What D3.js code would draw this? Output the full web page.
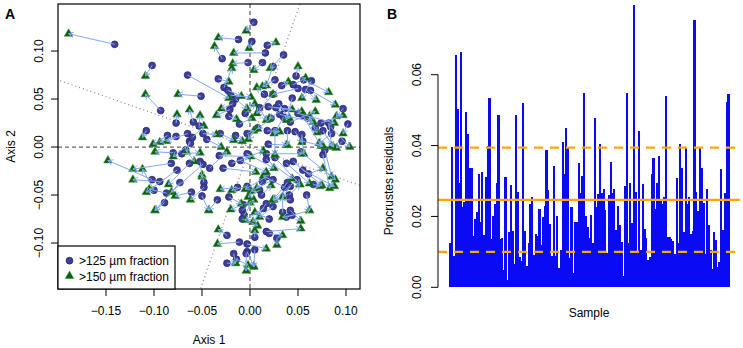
<!DOCTYPE html>
<html>
<head>
<meta charset="utf-8">
<script src="https://cdn.jsdelivr.net/npm/d3@7"></script>
<style>
  body { margin: 0; background: #fff; }
  svg text { font-family: "Liberation Sans", Arial, sans-serif; fill: #000; }
</style>
</head>
<body>
<div id="chart"></div>
<script>
// ---- data ----
// ordination scores of each sample, >125 µm fraction (arrow start)
const frac125 = [
  [-0.141,0.107],[-0.102,0.085],[-0.093,0.038],[-0.065,0.075],[-0.051,0.053],[-0.033,0.071],[-0.108,0.017],
  [0.004,0.130],[-0.012,0.112],[-0.029,0.092],[0.002,0.110],[0.018,0.106],[0.035,0.096],[0.016,0.098],
  [-0.002,0.088],[0.013,0.088],[0.024,0.084],[-0.027,0.062],[-0.023,0.059],[-0.020,0.054],[0.015,0.055],
  [0.033,0.064],[0.048,0.074],[0.056,0.070],[0.064,0.069],[0.050,0.061],[0.058,0.060],[0.063,0.059],
  [0.044,0.051],[0.024,0.055],[-0.077,0.025],[-0.059,0.026],[-0.053,0.022],[-0.021,0.039],[-0.022,0.032],
  [-0.011,0.024],[0.010,0.041],[0.019,0.042],[0.027,0.041],[0.031,0.034],[0.035,0.031],[0.042,0.026],
  [0.050,0.035],[0.055,0.033],[0.074,0.025],[0.082,0.025],[0.084,0.021],[0.097,0.040],[0.102,0.024],
  [-0.086,0.012],[-0.077,0.011],[-0.065,0.014],[-0.063,0.006],[-0.049,0.014],[-0.062,0.004],[-0.031,0.014],
  [-0.015,0.012],[-0.003,0.014],[0.018,0.017],[0.026,0.017],[0.039,0.017],[0.047,0.016],[0.054,0.013],
  [0.055,0.006],[0.076,0.017],[0.085,0.014],[0.096,0.006],[-0.080,-0.006],[-0.071,-0.007],[-0.082,-0.017],
  [-0.076,-0.024],[-0.063,-0.017],[-0.052,-0.015],[-0.049,-0.018],[-0.042,-0.022],[-0.032,-0.009],
  [-0.028,-0.022],[-0.019,-0.017],[-0.010,-0.014],[-0.003,-0.007],[0.019,0.003],[0.017,-0.007],
  [0.017,-0.013],[0.026,-0.011],[0.038,-0.017],[0.045,-0.015],[0.053,-0.005],[0.055,-0.024],[0.076,-0.008],
  [0.078,-0.003],[-0.102,-0.034],[-0.094,-0.036],[-0.100,-0.045],[-0.087,-0.048],[-0.073,-0.037],
  [-0.061,-0.047],[-0.048,-0.037],[-0.048,-0.042],[-0.050,-0.051],[-0.013,-0.042],[-0.003,-0.041],
  [0.017,-0.031],[0.013,-0.036],[0.024,-0.034],[0.036,-0.042],[0.039,-0.037],[0.042,-0.041],[0.049,-0.034],
  [0.059,-0.050],[0.066,-0.039],[-0.089,-0.058],[-0.034,-0.055],[-0.022,-0.052],[-0.008,-0.066],
  [-0.006,-0.071],[0.014,-0.064],[0.017,-0.059],[0.024,-0.062],[0.034,-0.068],[0.042,-0.066],[0.038,-0.073],
  [0.044,-0.071],[0.041,-0.050],[0.042,-0.055],[-0.024,-0.092],[-0.011,-0.099],[0.005,-0.094],[0.017,-0.088],
  [0.020,-0.090],[0.028,-0.095],[-0.003,-0.101],[-0.003,-0.109],[-0.017,-0.111],[-0.014,-0.117],
  [-0.004,-0.111],[0.005,-0.107],[-0.024,-0.121],
  [0.030,0.045],[0.036,0.040],[0.022,0.030],[-0.015,0.050],[-0.018,0.045],[-0.005,0.035],[0.008,0.020],
  [0.010,-0.045],[0.012,-0.050],[-0.007,-0.060],[-0.008,-0.075],[0.020,-0.075],[-0.060,0.010],[-0.045,0.008],
  [-0.067,-0.003],[0.060,0.030],[0.068,0.020],[0.045,0.065],[0.026,0.070],[0.061,-0.028]
];
// rotated scores of the same samples, >150 µm fraction (arrow end)
const frac150 = [
  [-0.189,0.118],[-0.109,0.074],[-0.109,0.055],[-0.022,0.051],[-0.075,0.055],[-0.022,0.068],[-0.112,0.010],
  [-0.004,0.121],[-0.033,0.114],[-0.037,0.105],[-0.001,0.103],[0.027,0.109],[0.021,0.082],[-0.017,0.098],
  [-0.018,0.087],[0.004,0.080],[0.017,0.064],[-0.019,0.082],[-0.009,0.053],[0.001,0.052],[0.007,0.062],
  [0.040,0.068],[0.050,0.084],[0.082,0.057],[0.054,0.051],[0.024,0.055],[0.069,0.049],[0.089,0.044],
  [0.038,0.028],[0.007,0.035],[-0.076,0.034],[-0.063,0.039],[-0.052,0.033],[-0.035,0.033],[-0.014,0.029],
  [0.002,0.030],[0.017,0.028],[0.044,0.039],[0.054,0.037],[0.066,0.026],[0.025,0.014],[0.068,0.037],
  [0.088,0.025],[0.074,0.001],[0.097,0.033],[0.085,0.001],[0.104,0.000],[0.090,0.032],[0.097,0.014],
  [-0.101,0.003],[-0.094,0.005],[-0.087,0.006],[-0.066,-0.005],[-0.035,0.013],[-0.080,-0.010],[-0.017,0.007],
  [-0.008,0.006],[0.004,0.017],[0.031,0.016],[0.026,-0.008],[0.039,0.002],[0.054,0.005],[0.056,-0.007],
  [0.076,0.001],[0.087,0.000],[0.072,0.004],[0.090,-0.001],[-0.099,-0.005],[-0.052,-0.006],[-0.122,-0.023],
  [-0.108,-0.047],[-0.085,-0.039],[-0.050,-0.031],[-0.082,-0.047],[-0.024,-0.005],[0.001,-0.010],
  [0.006,-0.026],[0.014,-0.004],[0.017,-0.026],[0.025,-0.022],[0.038,0.002],[0.054,-0.007],
  [0.044,-0.033],[0.052,-0.039],[0.062,-0.038],[0.075,-0.040],[0.089,-0.034],[0.088,-0.041],[0.083,-0.043],
  [0.085,-0.031],[-0.148,-0.014],[-0.122,-0.034],[-0.112,-0.023],[-0.105,-0.044],[-0.099,-0.066],
  [-0.078,-0.051],[-0.050,-0.029],[-0.062,-0.055],[-0.043,-0.066],[-0.031,-0.044],[-0.019,-0.045],
  [-0.005,-0.044],[0.007,-0.043],[0.001,-0.046],[0.014,-0.030],[0.024,-0.055],[0.034,-0.052],[0.025,-0.055],
  [0.062,-0.066],[0.073,-0.041],[-0.099,-0.066],[-0.043,-0.066],[-0.009,-0.059],[0.000,-0.058],
  [0.004,-0.055],[-0.005,-0.076],[0.003,-0.078],[0.010,-0.073],[0.034,-0.052],[0.053,-0.077],[0.062,-0.066],
  [0.034,-0.073],[0.052,-0.039],[0.024,-0.055],[-0.033,-0.086],[-0.034,-0.101],[0.005,-0.087],[0.053,-0.085],
  [0.034,-0.092],[0.028,-0.102],[0.017,-0.106],[0.004,-0.124],[-0.015,-0.121],[-0.002,-0.123],
  [-0.004,-0.129],[0.004,-0.125],[-0.015,-0.121],
  [0.041,0.030],[0.020,0.030],[0.008,0.019],[-0.003,0.040],[-0.030,0.040],[0.005,0.045],[-0.002,0.008],
  [-0.002,-0.052],[0.022,-0.040],[-0.020,-0.065],[0.008,-0.082],[0.005,-0.068],[-0.048,0.022],[-0.030,0.000],
  [-0.058,-0.015],[0.070,0.015],[0.062,0.032],[0.058,0.072],[0.013,0.063],[0.076,-0.022]
];
const xTicksA = [-0.15, -0.10, -0.05, 0.00, 0.05, 0.10];
const yTicksA = [-0.10, -0.05, 0.00, 0.05, 0.10];
const rotationSlopes = [-0.349, 2.865];      // rotated axes (dotted)
const legendLabels = [">125 µm fraction", ">150 µm fraction"];

// Procrustes residual of each sample
const residuals = [
  0.0124,0.0397,0.0087,0.0657,0.0502,0.0293,0.0663,0.0228,0.0242,0.0494,0.0434,0.0336,0.0338,0.0145,
  0.0193,0.0212,0.0320,0.0185,0.0326,0.0148,0.0310,0.0399,0.0535,0.0135,0.0201,
  0.0235,0.0295,0.0487,0.0135,0.0140,0.0050,0.0310,0.0020,0.0155,0.0290,0.0160,0.0065,0.0485,0.0270,
  0.0085,0.0075,0.0520,0.0160,0.0060,0.0125,0.0235,0.0255,0.0090,0.0150,0.0145,0.0220,
  0.0120,0.0197,0.0230,0.0388,0.0275,0.0180,0.0087,0.0343,0.0087,0.0200,0.0054,0.0105,0.0411,0.0319,
  0.0449,0.0397,0.0082,0.0226,0.0041,0.0185,0.0185,0.0350,0.0265,0.0314,0.0547,0.0200,
  0.0170,0.0138,0.0205,0.0125,0.0477,0.0228,0.0262,0.0404,0.0265,0.0277,0.0218,0.0096,0.0260,0.0353,
  0.0265,0.0277,0.0162,0.0230,0.0176,0.0129,0.0032,0.0286,0.0549,0.0124,0.0293,0.0182,0.0798,0.0270,
  0.0100,0.0441,0.0105,0.0292,0.0164,0.0138,0.0077,0.0085,0.0320,0.0364,0.0220,0.0295,0.0370,0.0250,
  0.0235,0.0256,0.0540,0.0143,0.0141,0.0135,0.0130,0.0095,0.0308,0.0125,0.0404,0.0336,0.0155,
  0.0392,0.0235,0.0255,0.0150,0.0160,0.0754,0.0270,0.0216,0.0397,0.0336,0.0237,0.0095,0.0277,0.0176,
  0.0105,0.0051,0.0155,0.0134,0.0058,0.0072,0.0333,0.0162,0.0265,0.0524,0.0545
];
const yTicksB = [0.00, 0.02, 0.04, 0.06];
const residualLines = [0.0100, 0.0247, 0.0394];  // lower, median, upper

// ---- layout ----
const width = 743, height = 348;
const boxA = { left: 58, right: 360, top: 4, bottom: 289 };
const boxB = { left: 438, right: 740, base: 287.3, top060: 74.7 };

const svg = d3.select("#chart").append("svg")
  .attr("width", width).attr("height", height);

const fmt = d3.format(".2f");

// ================= panel A =================
const x = d3.scaleLinear().domain([-0.2, 0.1146]).range([boxA.left, boxA.right]);
const y = d3.scaleLinear().domain([-0.1479, 0.149]).range([boxA.bottom, boxA.top]);

svg.append("clipPath").attr("id", "clipA")
  .append("rect")
  .attr("x", boxA.left).attr("y", boxA.top)
  .attr("width", boxA.right - boxA.left).attr("height", boxA.bottom - boxA.top);

const gA = svg.append("g").attr("clip-path", "url(#clipA)");

// zero lines
gA.append("line")
  .attr("x1", boxA.left).attr("x2", boxA.right).attr("y1", y(0)).attr("y2", y(0))
  .attr("stroke", "#666").attr("stroke-width", 1.3).attr("stroke-dasharray", "4,3");
gA.append("line")
  .attr("x1", x(0)).attr("x2", x(0)).attr("y1", boxA.top).attr("y2", boxA.bottom)
  .attr("stroke", "#666").attr("stroke-width", 1.3).attr("stroke-dasharray", "4,3");

// rotated axes (dotted)
gA.selectAll(".rot")
  .data(rotationSlopes)
  .join("line")
  .attr("x1", s => x(-0.3)).attr("y1", s => y(-0.3 * s))
  .attr("x2", s => x(0.3)).attr("y2", s => y(0.3 * s))
  .attr("stroke", "#8a8a8a").attr("stroke-width", 1.3).attr("stroke-dasharray", "1,3");

// points
gA.append("g").selectAll("circle")
  .data(frac125)
  .join("circle")
  .attr("cx", d => x(d[0])).attr("cy", d => y(d[1]))
  .attr("r", 3.4)
  .attr("fill", "#3f3f9c").attr("stroke", "#28286e").attr("stroke-width", 0.8);

const tri = d3.symbol().type(d3.symbolTriangle).size(32);
gA.append("g").selectAll("path")
  .data(frac150)
  .join("path")
  .attr("transform", d => `translate(${x(d[0])},${y(d[1])})`)
  .attr("d", tri)
  .attr("fill", "#0a640a").attr("stroke", "#3a8a3a").attr("stroke-width", 0.5);

// arrows from >125 to >150
const pairs = frac125.map((d, i) => [d, frac150[i]]);
const headLen = 5.5, headAng = Math.PI / 6;
gA.append("g").selectAll("path")
  .data(pairs)
  .join("path")
  .attr("d", ([a, b]) => {
    const x0 = x(a[0]), y0 = y(a[1]), x1 = x(b[0]), y1 = y(b[1]);
    const ang = Math.atan2(y1 - y0, x1 - x0);
    const h1x = x1 - headLen * Math.cos(ang - headAng), h1y = y1 - headLen * Math.sin(ang - headAng);
    const h2x = x1 - headLen * Math.cos(ang + headAng), h2y = y1 - headLen * Math.sin(ang + headAng);
    return `M${x0},${y0}L${x1},${y1}M${h1x},${h1y}L${x1},${y1}L${h2x},${h2y}`;
  })
  .attr("fill", "none").attr("stroke", "#82a9f2").attr("stroke-width", 1);

// box
svg.append("rect")
  .attr("x", boxA.left).attr("y", boxA.top)
  .attr("width", boxA.right - boxA.left).attr("height", boxA.bottom - boxA.top)
  .attr("fill", "none").attr("stroke", "#000").attr("stroke-width", 1.2);

// x axis ticks
svg.append("g").selectAll("line")
  .data(xTicksA).join("line")
  .attr("x1", d => x(d)).attr("x2", d => x(d))
  .attr("y1", boxA.bottom).attr("y2", boxA.bottom + 7)
  .attr("stroke", "#000");
svg.append("g").selectAll("text")
  .data(xTicksA).join("text")
  .attr("x", d => x(d)).attr("y", 315)
  .attr("text-anchor", "middle").attr("font-size", 12)
  .text(d => fmt(d));

// y axis ticks
svg.append("g").selectAll("line")
  .data(yTicksA).join("line")
  .attr("x1", boxA.left - 7).attr("x2", boxA.left)
  .attr("y1", d => y(d)).attr("y2", d => y(d))
  .attr("stroke", "#000");
svg.append("g").selectAll("text")
  .data(yTicksA).join("text")
  .attr("transform", d => `translate(42.5,${y(d)}) rotate(-90)`)
  .attr("text-anchor", "middle").attr("font-size", 12)
  .text(d => fmt(d));

svg.append("text").attr("x", (boxA.left + boxA.right) / 2).attr("y", 344)
  .attr("text-anchor", "middle").attr("font-size", 12).text("Axis 1");
svg.append("text").attr("transform", `translate(14.5,${(boxA.top + boxA.bottom) / 2}) rotate(-90)`)
  .attr("text-anchor", "middle").attr("font-size", 12).text("Axis 2");

// legend
const leg = svg.append("g");
leg.append("rect")
  .attr("x", boxA.left).attr("y", 246).attr("width", 117).attr("height", boxA.bottom - 246)
  .attr("fill", "#fff").attr("stroke", "#000").attr("stroke-width", 1.2);
leg.append("circle").attr("cx", 69.5).attr("cy", 260.7).attr("r", 3.4)
  .attr("fill", "#3f3f9c").attr("stroke", "#28286e").attr("stroke-width", 0.8);
leg.append("path").attr("transform", "translate(69.5,276)").attr("d", tri)
  .attr("fill", "#0a640a").attr("stroke", "#3a8a3a").attr("stroke-width", 0.5);
leg.selectAll("text")
  .data(legendLabels).join("text")
  .attr("x", 79).attr("y", (d, i) => 265.3 + i * 15.2)
  .attr("font-size", 12).text(d => d);

svg.append("text").attr("x", 5).attr("y", 19)
  .attr("font-size", 14).attr("font-weight", "bold").text("A");

// ================= panel B =================
const n = residuals.length;
const span = 1.2 * n - 0.2;
const xb = d3.scaleLinear()
  .domain([0.2 - 0.04 * span, 1.2 * n + 0.04 * span])
  .range([boxB.left, boxB.right]);
const yb = d3.scaleLinear().domain([0, 0.06]).range([boxB.base, boxB.top060]);

// bars butt up against each other (pixel-snapped so no white seams)
svg.append("g").selectAll("rect")
  .data(residuals)
  .join("rect")
  .attr("x", (d, i) => xb(0.2 + 1.2 * i))
  .attr("width", xb(1.2) - xb(0) + 0.4)
  .attr("y", d => yb(d))
  .attr("height", d => yb(0) - yb(d))
  .attr("fill", "#0a0af5")
  .attr("shape-rendering", "crispEdges");

// reference lines
svg.append("g").selectAll("line")
  .data(residualLines)
  .join("line")
  .attr("x1", boxB.left).attr("x2", boxB.right)
  .attr("y1", d => yb(d)).attr("y2", d => yb(d))
  .attr("stroke", "#ffa500").attr("stroke-width", 2.2)
  .attr("stroke-dasharray", (d, i) => i === 1 ? null : "9,7");

// y axis
svg.append("line")
  .attr("x1", boxB.left).attr("x2", boxB.left)
  .attr("y1", yb(0)).attr("y2", yb(0.06)).attr("stroke", "#000");
svg.append("g").selectAll("line")
  .data(yTicksB).join("line")
  .attr("x1", boxB.left - 7).attr("x2", boxB.left)
  .attr("y1", d => yb(d)).attr("y2", d => yb(d))
  .attr("stroke", "#000");
svg.append("g").selectAll("text")
  .data(yTicksB).join("text")
  .attr("transform", d => `translate(421,${yb(d)}) rotate(-90)`)
  .attr("text-anchor", "middle").attr("font-size", 12)
  .text(d => fmt(d));

svg.append("text").attr("transform", `translate(392.5,${yb(0.03)}) rotate(-90)`)
  .attr("text-anchor", "middle").attr("font-size", 12).text("Procrustes residuals");
svg.append("text").attr("x", 589).attr("y", 317)
  .attr("text-anchor", "middle").attr("font-size", 12).text("Sample");

svg.append("text").attr("x", 387).attr("y", 19)
  .attr("font-size", 14).attr("font-weight", "bold").text("B");
</script>
</body>
</html>
